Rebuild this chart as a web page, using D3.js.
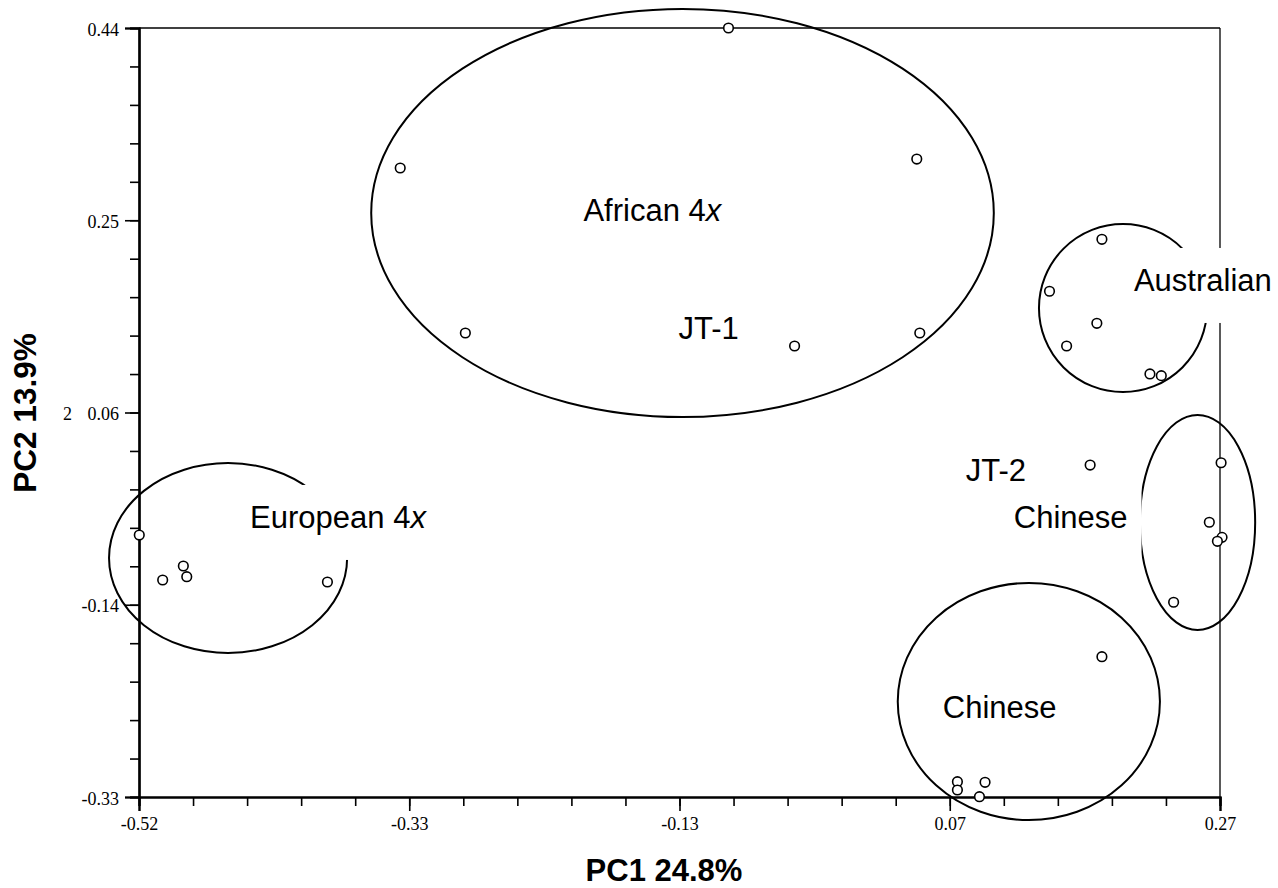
<!DOCTYPE html>
<html>
<head>
<meta charset="utf-8">
<script src="https://cdn.jsdelivr.net/npm/d3@7"></script>
<style>
  html, body { margin: 0; padding: 0; background: #fff; }
  svg { display: block; }
</style>
</head>
<body>
<script>
// ---------- data ----------
const xDomain = [-0.525, 0.265];
const yDomain = [-0.33, 0.44];
const xTickLabels = ["-0.52", "-0.33", "-0.13", "0.07", "0.27"];
const yTickLabels = ["-0.33", "-0.14", "0.06", "0.25", "0.44"];

const africanX = [-0.0942, -0.3341, 0.0434, -0.2865, -0.0459, 0.0456];
const africanY = [0.4400, 0.2998, 0.3088, 0.1346, 0.1216, 0.1346];
const australianX = [0.1787, 0.1404, 0.1750, 0.1529, 0.2138, 0.2221];
const australianY = [0.2284, 0.1764, 0.1443, 0.1216, 0.0936, 0.0919];
const jt2X = [0.1701];
const jt2Y = [0.0024];
const chineseAX = [0.2658, 0.2572, 0.2665, 0.2631, 0.2311];
const chineseAY = [0.0047, -0.0549, -0.0700, -0.0740, -0.1350];
const chineseBX = [0.1787, 0.0731, 0.0731, 0.0933, 0.0892];
const chineseBY = [-0.1895, -0.3147, -0.3230, -0.3153, -0.3297];
const europeanX = [-0.5248, -0.5077, -0.4926, -0.4901, -0.3873];
const europeanY = [-0.0677, -0.1127, -0.0987, -0.1094, -0.1147];

const ellipseCX = [-0.1278, 0.1941, 0.2486, 0.1253, -0.4599];
const ellipseCY = [0.2548, 0.1596, -0.0551, -0.2344, -0.0907];
const ellipseRX = [0.2275, 0.0614, 0.0421, 0.0958, 0.0870];
const ellipseRY = [0.2043, 0.0841, 0.1076, 0.1187, 0.0951];

const labelText = ["African 4", "JT-1", "Australian", "JT-2", "Chinese", "Chinese", "European 4"];
const labelItalic = ["x", "", "", "", "", "", "x"];
const labelX = [-0.2002, -0.1307, 0.2021, 0.0792, 0.1143, 0.0624, -0.4438];
const labelY = [0.2578, 0.1396, 0.1877, -0.0026, -0.0496, -0.2399, -0.0496];

// ---------- chart ----------
const W = 1278, H = 888;
const svg = d3.select("body").append("svg").attr("width", W).attr("height", H);
svg.append("rect").attr("width", W).attr("height", H).attr("fill", "#fff");

const x = d3.scaleLinear().domain(xDomain).range([139, 1220]);
const y = d3.scaleLinear().domain(yDomain).range([797, 28]);

const serif = "'Liberation Serif', 'Times New Roman', serif";
const sans = "'Liberation Sans', Arial, Helvetica, sans-serif";

const xMajor = d3.range(5).map(i => xDomain[0] + i * (xDomain[1] - xDomain[0]) / 4);
const xMinor = d3.range(21).map(i => xDomain[0] + i * (xDomain[1] - xDomain[0]) / 20);
const yMajor = d3.range(5).map(i => yDomain[0] + i * (yDomain[1] - yDomain[0]) / 4);
const yMinor = d3.range(21).map(i => yDomain[0] + i * (yDomain[1] - yDomain[0]) / 20);

// frame (top & right)
svg.append("line").attr("x1", x.range()[0]).attr("x2", x.range()[1])
  .attr("y1", y.range()[1]).attr("y2", y.range()[1])
  .attr("stroke", "#000").attr("stroke-width", 1.3);
svg.append("line").attr("x1", x.range()[1]).attr("x2", x.range()[1])
  .attr("y1", y.range()[0]).attr("y2", y.range()[1])
  .attr("stroke", "#000").attr("stroke-width", 1.3);

// bottom axis
const xAxisMinor = d3.axisBottom(x).tickValues(xMinor).tickSize(9).tickFormat("");
const xAxisMajor = d3.axisBottom(x).tickValues(xMajor).tickSize(14)
  .tickFormat((d, i) => xTickLabels[i]).tickPadding(6);
const gxm = svg.append("g").attr("transform", `translate(0,${y.range()[0]})`).call(xAxisMinor);
const gx = svg.append("g").attr("transform", `translate(0,${y.range()[0]})`).call(xAxisMajor);
[gxm, gx].forEach(g => {
  g.select(".domain").attr("stroke", "#000").attr("stroke-width", 2.2);
  g.selectAll(".tick line").attr("stroke", "#000").attr("stroke-width", 1.6);
});
gx.selectAll(".tick text").attr("font-family", serif).attr("font-size", 18)
  .attr("fill", "#000").attr("dy", "0.7em");

// left axis
const yAxisMinor = d3.axisLeft(y).tickValues(yMinor).tickSize(9).tickFormat("");
const yAxisMajor = d3.axisLeft(y).tickValues(yMajor).tickSize(14)
  .tickFormat((d, i) => yTickLabels[i]).tickPadding(6);
const gym = svg.append("g").attr("transform", `translate(${x.range()[0]},0)`).call(yAxisMinor);
const gy = svg.append("g").attr("transform", `translate(${x.range()[0]},0)`).call(yAxisMajor);
[gym, gy].forEach(g => {
  g.select(".domain").attr("stroke", "#000").attr("stroke-width", 2.2);
  g.selectAll(".tick line").attr("stroke", "#000").attr("stroke-width", 1.6);
});
gy.selectAll(".tick text").attr("font-family", serif).attr("font-size", 18)
  .attr("fill", "#000").attr("dy", "0.4em");

// stray "2" beside the y axis
svg.append("text").attr("x", 72).attr("y", y(yMajor[2]) + 7)
  .attr("text-anchor", "end").attr("font-family", serif).attr("font-size", 18)
  .attr("fill", "#000").text("2");

// axis titles
svg.append("text").attr("x", 664).attr("y", 881).attr("text-anchor", "middle")
  .attr("font-family", sans).attr("font-weight", "bold").attr("font-size", 31)
  .attr("fill", "#000").text("PC1 24.8%");
svg.append("text").attr("transform", `translate(36,413) rotate(-90)`).attr("text-anchor", "middle")
  .attr("font-family", sans).attr("font-weight", "bold").attr("font-size", 31.5)
  .attr("fill", "#000").text("PC2 13.9%");

// ellipses
const ellipses = ellipseCX.map((cx, i) => ({ cx, cy: ellipseCY[i], rx: ellipseRX[i], ry: ellipseRY[i] }));
svg.append("g").selectAll("ellipse").data(ellipses).join("ellipse")
  .attr("cx", d => x(d.cx)).attr("cy", d => y(d.cy))
  .attr("rx", d => x(d.cx + d.rx) - x(d.cx))
  .attr("ry", d => y(d.cy - d.ry) - y(d.cy))
  .attr("fill", "none").attr("stroke", "#000").attr("stroke-width", 2);

// points
const groups = [
  [africanX, africanY], [australianX, australianY], [jt2X, jt2Y],
  [chineseAX, chineseAY], [chineseBX, chineseBY], [europeanX, europeanY]
];
const pts = [];
groups.forEach(([xs, ys]) => xs.forEach((v, i) => pts.push({ x: v, y: ys[i] })));
svg.append("g").selectAll("circle").data(pts).join("circle")
  .attr("cx", d => x(d.x)).attr("cy", d => y(d.y)).attr("r", 4.8)
  .attr("fill", "#fff").attr("stroke", "#000").attr("stroke-width", 1.6);

// labels with white boxes
const boxG = svg.append("g");
const textG = svg.append("g");
const labels = labelText.map((t, i) => ({ t, it: labelItalic[i], x: labelX[i], y: labelY[i] }));
const texts = textG.selectAll("text").data(labels).join("text")
  .attr("x", d => x(d.x)).attr("y", d => y(d.y) + 11)
  .attr("font-family", sans).attr("font-size", 31).attr("fill", "#000");
texts.append("tspan").text(d => d.t);
texts.filter(d => d.it).append("tspan").attr("font-style", "italic").text(d => d.it);
texts.each(function (d) {
  const b = this.getBBox();
  boxG.append("rect")
    .attr("x", b.x - 14).attr("y", y(d.y) - 32)
    .attr("width", b.width + 28).attr("height", 75)
    .attr("fill", "#fff");
});
</script>
</body>
</html>
